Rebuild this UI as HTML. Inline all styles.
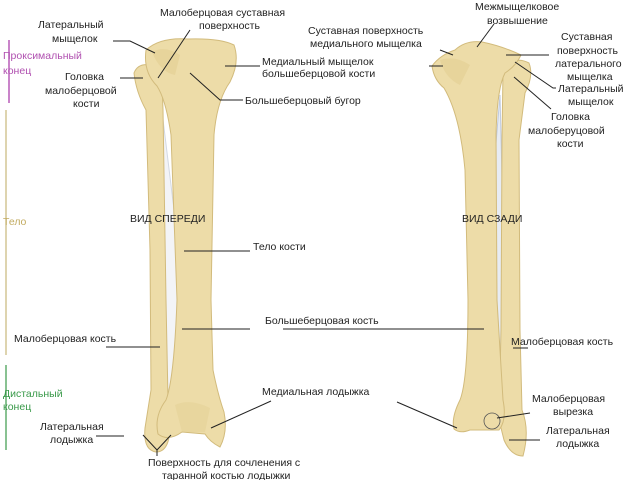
<!DOCTYPE html>
<html><head><meta charset="utf-8"><style>
html,body{margin:0;padding:0;background:#fff}
svg{display:block}
text{font-family:"Liberation Sans",sans-serif;font-size:10.5px;fill:#222}
line,polyline{stroke:#222;stroke-width:1;fill:none}
.b{fill:#eddca8;stroke:#d2bb7c;stroke-width:1}
.d{fill:#e2cc8e}
</style></head><body>
<svg width="640" height="480" viewBox="0 0 640 480" xmlns="http://www.w3.org/2000/svg">
<rect width="640" height="480" fill="#fff"/>
<!-- scale bar -->
<line x1="9" y1="40" x2="9" y2="103" style="stroke:#b85ab8;stroke-width:1.5"/>
<line x1="6" y1="110" x2="6" y2="355" style="stroke:#c9b77a;stroke-width:1.2"/>
<line x1="6" y1="365" x2="6" y2="450" style="stroke:#3a9a4a;stroke-width:1.2"/>
<text x="3" y="59" style="fill:#b050b0">Проксимальный</text>
<text x="3" y="74" style="fill:#b050b0">конец</text>
<text x="3" y="225" style="fill:#c2ab60">Тело</text>
<text x="3" y="397" style="fill:#3a9a4a">Дистальный</text>
<text x="3" y="410" style="fill:#3a9a4a">конец</text>

<!-- FRONT VIEW -->
<path d="M160 95 L185 300 L180 405 L165 405 L163 300 Z" fill="#f3f4f7" stroke="#d3d9e3"/>
<path class="b" d="M134 73 Q138 63 150 65 Q163 68 162 82 L163 110 L166 300 L168 400 L170 425 Q170 452 156 452 Q143 450 145 428 L151 390 L150 250 L146 110 Q136 92 134 73 Z"/>
<path class="b" d="M146 50 Q160 37 188 39 Q220 38 234 45 Q240 62 230 82 Q217 100 214 135 L211 300 L213 370 Q218 395 224 412 Q228 432 220 447 Q210 442 205 434 L182 432 Q168 442 158 434 Q154 416 166 400 Q174 380 177 300 L171 135 Q166 100 157 86 Q143 72 146 50 Z"/>
<path class="d" d="M152 52 Q165 45 180 55 L175 75 Q160 72 152 52 Z" opacity="0.5"/>
<path class="d" d="M175 405 Q190 398 210 408 L205 432 L182 432 Z" opacity="0.4"/>

<!-- BACK VIEW -->
<path d="M500 95 L483 300 L490 410 L500 410 L505 300 Z" fill="#e7ecf4" stroke="#bfcadf"/>
<path class="b" d="M503 70 Q514 55 529 63 Q534 76 525 93 L519 140 L520 330 L522 410 Q530 430 523 456 Q511 456 504 440 L499 420 L501 330 L502 140 Z"/>
<path class="b" d="M432 66 Q440 55 455 50 Q466 40 482 42 Q502 46 521 55 Q516 66 505 73 Q497 88 496 135 L497 300 L503 400 Q507 420 499 430 L470 430 Q460 434 454 429 Q451 418 460 400 Q468 380 468 300 L465 170 Q460 115 444 88 Q434 80 432 66 Z"/>
<path class="d" d="M440 60 Q455 55 470 65 L460 85 Q445 78 440 60 Z" opacity="0.5"/>
<circle cx="492" cy="421" r="8" fill="none" stroke="#555" stroke-width="0.8"/>

<!-- front labels -->
<text x="38" y="28">Латеральный</text><text x="52" y="42">мыщелок</text>
<polyline points="113,41 130,41 155,53"/>
<text x="65" y="80">Головка</text><text x="45" y="94">малоберцовой</text><text x="73" y="107">кости</text>
<line x1="120" y1="78" x2="143" y2="78"/>
<text x="160" y="16">Малоберцовая суставная</text><text x="199" y="29">поверхность</text>
<line x1="190" y1="30" x2="158" y2="78"/>
<text x="262" y="65">Медиальный мыщелок</text><text x="262" y="77">большеберцовой кости</text>
<line x1="225" y1="66" x2="260" y2="66"/>
<polyline points="190,73 220,100 243,100"/>
<text x="245" y="104">Большеберцовый бугор</text>
<text x="130" y="222">ВИД СПЕРЕДИ</text>
<line x1="184" y1="251" x2="250" y2="251"/>
<text x="253" y="250">Тело кости</text>
<text x="265" y="324">Большеберцовая кость</text>
<line x1="182" y1="329" x2="250" y2="329"/>
<line x1="283" y1="329" x2="395" y2="329"/>
<text x="14" y="342">Малоберцовая кость</text>
<line x1="106" y1="347" x2="160" y2="347"/>
<text x="262" y="395">Медиальная лодыжка</text>
<line x1="271" y1="401" x2="211" y2="428"/>
<text x="40" y="430">Латеральная</text><text x="50" y="443">лодыжка</text>
<line x1="96" y1="436" x2="124" y2="436"/>
<polyline points="143,435 157,450 171,435"/>
<line x1="157" y1="450" x2="157" y2="456"/>
<text x="148" y="466">Поверхность для сочленения с</text>
<text x="162" y="479">таранной костью лодыжки</text>

<!-- back labels -->
<text x="475" y="10">Межмыщелковое</text><text x="487" y="24">возвышение</text>
<line x1="494" y1="24" x2="477" y2="47"/>
<text x="308" y="34">Суставная поверхность</text><text x="310" y="47">медиального мыщелка</text>
<line x1="440" y1="50" x2="453" y2="55"/>
<line x1="429" y1="66" x2="443" y2="66"/>
<text x="561" y="40">Суставная</text><text x="557" y="54">поверхность</text><text x="555" y="67">латерального</text><text x="567" y="80">мыщелка</text>
<line x1="506" y1="55" x2="549" y2="55"/>
<polyline points="515,62 553,88 556,88"/>
<text x="558" y="92">Латеральный</text><text x="568" y="105">мыщелок</text>
<line x1="514" y1="77" x2="551" y2="109"/>
<text x="551" y="120">Головка</text><text x="528" y="134">малоберуцовой</text><text x="557" y="147">кости</text>
<text x="462" y="222">ВИД СЗАДИ</text>
<line x1="395" y1="329" x2="484" y2="329"/>
<line x1="513" y1="348" x2="528" y2="348"/>
<text x="511" y="345">Малоберцовая кость</text>
<line x1="397" y1="402" x2="457" y2="428"/>
<text x="532" y="402">Малоберцовая</text><text x="553" y="415">вырезка</text>
<line x1="497" y1="418" x2="530" y2="413"/>
<text x="546" y="434">Латеральная</text><text x="556" y="447">лодыжка</text>
<line x1="509" y1="440" x2="540" y2="440"/>
</svg>
</body></html>
